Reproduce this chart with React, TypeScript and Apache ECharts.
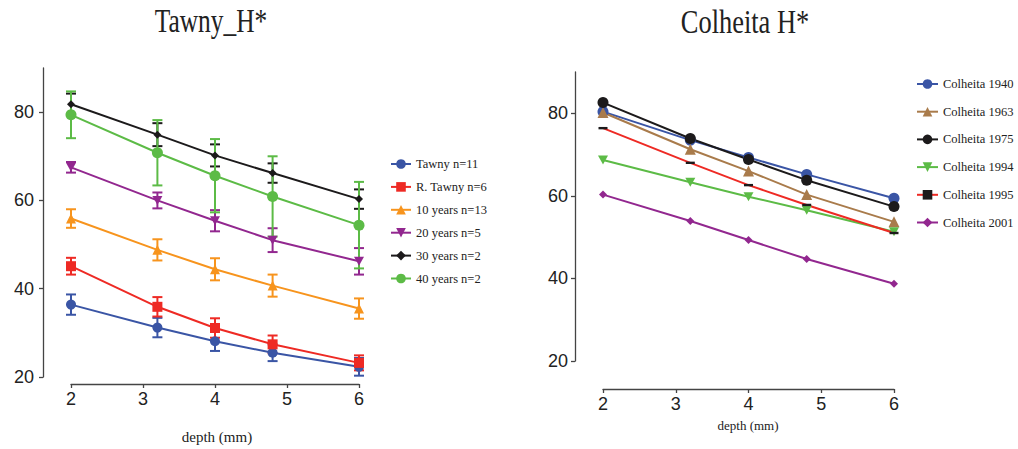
import React, { useEffect, useRef } from "react";
import * as echarts from "echarts";

// ---------- data ----------
const depth = [2, 3.2, 4, 4.8, 6];
const yTickValues = [20, 40, 60, 80];

const tawnyNames = ["Tawny n=11", "R. Tawny n=6", "10 years n=13", "20 years n=5", "30 years n=2", "40 years n=2"];
const tawny = [36.4, 31.2, 28.1, 25.5, 22.3];
const tawnyErr = [2.3, 2.2, 2.2, 1.9, 2.0];
const rTawny = [45.1, 35.9, 31.1, 27.4, 23.2];
const rTawnyErr = [1.9, 2.2, 2.2, 2.0, 1.7];
const years10 = [55.9, 48.8, 44.4, 40.7, 35.5];
const years10Err = [2.1, 2.4, 2.5, 2.5, 2.3];
const years20 = [67.5, 60.0, 55.4, 51.0, 46.2];
const years20Err = [1.2, 1.8, 2.4, 2.7, 3.0];
const years30 = [81.8, 74.9, 70.2, 66.2, 60.3];
const years30Err = [2.4, 2.6, 2.5, 2.2, 2.2];
const years40 = [79.4, 70.8, 65.6, 60.9, 54.4];
const years40Err = [5.3, 7.4, 8.3, 9.1, 9.8];

const colheitaNames = ["Colheita 1940", "Colheita 1963", "Colheita 1975", "Colheita 1994", "Colheita 1995", "Colheita 2001"];
const c1940 = [80.4, 73.5, 69.3, 65.2, 59.4];
const c1963 = [80.2, 71.3, 66.0, 60.3, 53.7];
const c1975 = [82.6, 73.9, 68.8, 63.8, 57.4];
const c1994 = [68.7, 63.3, 59.8, 56.5, 51.3];
const c1995 = [76.4, 68.0, 62.6, 57.8, 51.0];
const c2001 = [60.3, 53.9, 49.3, 44.7, 38.7];

// ---------- styles ----------
const BLUE = "#3a55a5";
const RED = "#ee2a24";
const ORANGE = "#f7941d";
const PURPLE = "#92278f";
const BLACK = "#1c1a1b";
const GREEN = "#5cbb46";
const BROWN = "#a97b4b";

const INV_TRI = "path://M0,0L10,0L5,9Z";
const DASH = "path://M0,0L10,0L10,2.4L0,2.4Z";

function lineSeries(name: string, vals: number[], color: string, symbol: string, size: any, grid: number, itemColor?: string) {
  return {
    type: "line",
    name,
    xAxisIndex: grid,
    yAxisIndex: grid,
    data: depth.map((x, i) => [x, vals[i]]),
    symbol,
    symbolSize: size,
    showSymbol: true,
    lineStyle: { color, width: 2 },
    itemStyle: { color: itemColor || color },
    z: 3,
  };
}

function errSeries(name: string, vals: number[], errs: number[], color: string) {
  return {
    type: "custom",
    name: "err " + name,
    xAxisIndex: 0,
    yAxisIndex: 0,
    itemStyle: { color },
    z: 2,
    data: depth.map((x, i) => [x, vals[i] - errs[i], vals[i] + errs[i]]),
    encode: { x: 0, y: [1, 2] },
    renderItem: (params: any, api: any) => {
      const x = api.value(0);
      const lo = api.coord([x, api.value(1)]);
      const hi = api.coord([x, api.value(2)]);
      const w = 5;
      const style = { stroke: color, lineWidth: 2 };
      return {
        type: "group",
        children: [
          { type: "line", shape: { x1: lo[0], y1: lo[1], x2: hi[0], y2: hi[1] }, style },
          { type: "line", shape: { x1: hi[0] - w, y1: hi[1], x2: hi[0] + w, y2: hi[1] }, style },
          { type: "line", shape: { x1: lo[0] - w, y1: lo[1], x2: lo[0] + w, y2: lo[1] }, style },
        ],
      };
    },
  };
}

const axisLineStyle = { color: "#444", width: 1.3 };
const tickFont = { fontSize: 18, fontFamily: "Liberation Sans", color: "#222" };

function xAxis(grid: number, offset: number) {
  return {
    gridIndex: grid,
    type: "value",
    min: 2,
    max: 6,
    interval: 1,
    offset,
    axisLine: { show: true, onZero: false, lineStyle: axisLineStyle },
    axisTick: { show: true, length: 4, lineStyle: axisLineStyle },
    axisLabel: { ...tickFont, margin: 6 },
    splitLine: { show: false },
  };
}

function yAxis(grid: number, offset: number, margin: number) {
  return {
    gridIndex: grid,
    type: "value",
    min: 20,
    max: 90,
    interval: 20,
    offset,
    axisLine: { show: true, onZero: false, lineStyle: axisLineStyle },
    axisTick: { show: true, length: 4, lineStyle: axisLineStyle, customValues: yTickValues },
    axisLabel: { ...tickFont, margin, customValues: yTickValues },
    splitLine: { show: false },
  };
}

const legendText = { fontFamily: "Liberation Serif", fontSize: 12.5, color: "#222", lineHeight: 14 };

export default function App() {
  const ref = useRef<HTMLDivElement>(null);
  useEffect(() => {
    if (!ref.current) return;
    const chart = echarts.init(ref.current, undefined, { renderer: "svg" });
    const option: any = {
      animation: false,
      backgroundColor: "#ffffff",
      grid: [
        { left: 71, top: 68, width: 288, height: 309 },
        { left: 603, top: 72, width: 291, height: 289 },
      ],
      xAxis: [xAxis(0, 7), xAxis(1, 28)],
      yAxis: [yAxis(0, 28, 9), yAxis(1, 28, 7)],
      legend: [
        {
          data: tawnyNames,
          orient: "vertical",
          left: 385,
          top: 152,
          itemWidth: 20,
          itemHeight: 12,
          itemGap: 8.9,
          textStyle: legendText,
        },
        {
          data: colheitaNames,
          orient: "vertical",
          left: 911,
          top: 72,
          itemWidth: 21,
          itemHeight: 12,
          itemGap: 13.7,
          textStyle: legendText,
        },
      ],
      graphic: [
        {
          type: "text", x: 211, y: 21, scaleX: 0.77,
          style: { text: "Tawny_H*", fontSize: 33, fontFamily: "Liberation Serif", fill: "#222", align: "center", verticalAlign: "middle" },
        },
        {
          type: "text", x: 745, y: 21, scaleX: 0.8,
          style: { text: "Colheita H*", fontSize: 33, fontFamily: "Liberation Serif", fill: "#222", align: "center", verticalAlign: "middle" },
        },
        {
          type: "text", x: 217, y: 437,
          style: { text: "depth (mm)", fontSize: 15, fontFamily: "Liberation Serif", fill: "#222", align: "center", verticalAlign: "middle" },
        },
        {
          type: "text", x: 748, y: 425,
          style: { text: "depth (mm)", fontSize: 13, fontFamily: "Liberation Serif", fill: "#222", align: "center", verticalAlign: "middle" },
        },
      ],
      series: [
        errSeries(tawnyNames[0], tawny, tawnyErr, BLUE),
        errSeries(tawnyNames[1], rTawny, rTawnyErr, RED),
        errSeries(tawnyNames[2], years10, years10Err, ORANGE),
        errSeries(tawnyNames[3], years20, years20Err, PURPLE),
        errSeries(tawnyNames[4], years30, years30Err, BLACK),
        errSeries(tawnyNames[5], years40, years40Err, GREEN),
        lineSeries(tawnyNames[0], tawny, BLUE, "circle", 10, 0),
        lineSeries(tawnyNames[1], rTawny, RED, "rect", 10, 0),
        lineSeries(tawnyNames[2], years10, ORANGE, "triangle", 10, 0),
        lineSeries(tawnyNames[3], years20, PURPLE, INV_TRI, [10, 9], 0),
        lineSeries(tawnyNames[4], years30, BLACK, "diamond", 8, 0),
        lineSeries(tawnyNames[5], years40, GREEN, "circle", 11, 0),
        lineSeries(colheitaNames[0], c1940, BLUE, "circle", 11, 1),
        lineSeries(colheitaNames[1], c1963, BROWN, "triangle", 11, 1),
        lineSeries(colheitaNames[2], c1975, BLACK, "circle", 11, 1),
        lineSeries(colheitaNames[3], c1994, GREEN, INV_TRI, [10, 9], 1),
        lineSeries(colheitaNames[4], c1995, RED, DASH, [9, 2.4], 1, BLACK),
        lineSeries(colheitaNames[5], c2001, PURPLE, "diamond", 8, 1),
      ],
    };
    chart.setOption(option);
    return () => chart.dispose();
  }, []);
  return (
    <div
      ref={ref}
      style={{ position: "absolute", left: 0, top: 0, width: 1018, height: 449, background: "#fff" }}
    />
  );
}
